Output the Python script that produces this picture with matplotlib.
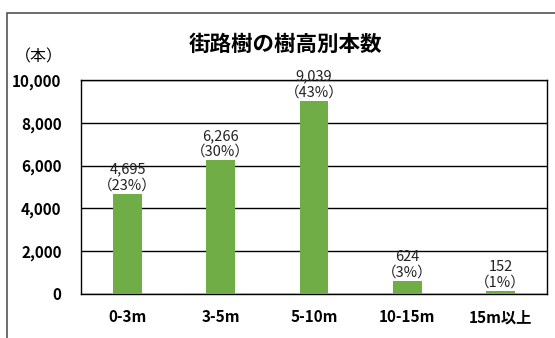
import matplotlib.pyplot as plt
from matplotlib.patches import Rectangle

plt.rcParams['font.family'] = ['Noto Sans CJK JP', 'DejaVu Sans']

categories = ['0-3m', '3-5m', '5-10m', '10-15m', '15m以上']
counts = [4695, 6266, 9039, 624, 152]
shares = [23, 30, 43, 3, 1]
y_ticks = [0, 2000, 4000, 6000, 8000, 10000]

W, H = 555, 338
fig = plt.figure(figsize=(W / 100, H / 100), dpi=100)
ax = fig.add_axes([81 / W, 1 - 294 / H, (547 - 81) / W, (294 - 80) / H])

# outer frame, cut off at right and bottom like the screenshot
fig.patches.append(Rectangle((7 / W, -0.1), 1.2, 1 - 13 / H + 0.1,
                             transform=fig.transFigure, fill=False,
                             edgecolor='#555555', linewidth=1.2))

x = range(len(categories))
ax.bar(x, counts, width=0.31, color='#70AD47', zorder=3)

for i, (c, s) in enumerate(zip(counts, shares)):
    ax.annotate(f'{c:,}\n（{s}%）', (i, c), xytext=(0, 1), textcoords='offset points',
                ha='center', va='bottom', fontsize=10.5, linespacing=1.15,
                color='#222222', zorder=4)

ax.set_xlim(-0.5, len(categories) - 0.5)
ax.set_ylim(0, 10000)
ax.set_yticks(y_ticks)
ax.set_yticklabels([f'{v:,}' for v in y_ticks], fontsize=11, fontweight='bold')
ax.set_xticks(list(x))
ax.set_xticklabels(categories, fontsize=11, fontweight='bold')
ax.tick_params(length=0)
ax.tick_params(axis='y', pad=14)
ax.tick_params(axis='x', pad=11)
ax.grid(axis='y', color='black', linewidth=1, zorder=0)
for sp in ax.spines.values():
    sp.set_color('black')
    sp.set_linewidth(1)

fig.text(285 / W, 1 - 44 / H, '街路樹の樹高別本数', ha='center', va='center',
         fontsize=15.5, fontweight='bold')
fig.text(39 / W, 1 - 57 / H, '（本）', ha='center', va='center', fontsize=11.5)

fig.savefig('out.png', dpi=100, facecolor='white')
